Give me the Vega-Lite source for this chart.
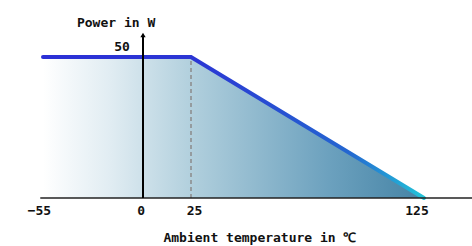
{
  "$schema": "https://vega.github.io/schema/vega-lite/v6.json",
  "width": 472,
  "height": 246,
  "padding": 0,
  "autosize": "none",
  "background": "white",
  "config": {"view": {"stroke": null}},
  "datasets": {
    "curve": [
      {"t": -55, "p": 50},
      {"t": 25, "p": 50},
      {"t": 125, "p": 0}
    ],
    "labels": [
      {"t": -57, "p": -4.6, "label": "−55"},
      {"t": -1, "p": -4.6, "label": "0"},
      {"t": 26.5, "p": -4.6, "label": "25"},
      {"t": 122, "p": -4.6, "label": "125"},
      {"t": -11.5, "p": 53.5, "label": "50"},
      {"t": -14.8, "p": 62, "label": "Power in W"},
      {"t": 54.6, "p": -14.2, "label": "Ambient temperature in ℃"}
    ]
  },
  "encoding": {
    "x": {"field": "t", "type": "quantitative", "axis": null,
      "scale": {"domain": [-55, 0, 25, 125], "range": [43, 143, 191, 424], "nice": false, "zero": false}},
    "y": {"field": "p", "type": "quantitative", "axis": null,
      "scale": {"domain": [0, 50], "range": [198, 57], "nice": false, "zero": false}}
  },
  "layer": [
    {
      "data": {"name": "curve"},
      "mark": {"type": "area", "color": {"gradient": "linear", "x1": 0, "x2": 1, "y1": 0, "y2": 0,
        "stops": [
          {"offset": 0, "color": "#ffffff"},
          {"offset": 0.18, "color": "#e0ecf2"},
          {"offset": 0.4, "color": "#afcedc"},
          {"offset": 0.75, "color": "#6ca1be"},
          {"offset": 1, "color": "#4583a5"}
        ]}}
    },
    {
      "data": {"values": [{"t": 25, "p": 0, "p2": 50}]},
      "mark": {"type": "rule", "color": "#8a8a8a", "strokeWidth": 1.5, "strokeDash": [4, 3]},
      "encoding": {"y2": {"field": "p2"}}
    },
    {
      "data": {"name": "curve"},
      "mark": {"type": "line", "strokeWidth": 4, "strokeCap": "round", "strokeJoin": "miter",
        "color": {"gradient": "linear", "x1": 0, "x2": 1, "y1": 0, "y2": 0,
          "stops": [
            {"offset": 0, "color": "#2b30d6"},
            {"offset": 0.4, "color": "#2b36d4"},
            {"offset": 0.8, "color": "#2466d0"},
            {"offset": 1, "color": "#22c4d8"}
          ]}}
    },
    {
      "data": {"values": [{"t": -56.5, "t2": 146, "p": 0}]},
      "mark": {"type": "rule", "color": "#222222", "strokeWidth": 1.5},
      "encoding": {"x2": {"field": "t2"}}
    },
    {
      "data": {"values": [{"t": 0, "p": 0, "p2": 57.5}]},
      "mark": {"type": "rule", "color": "#000000", "strokeWidth": 2},
      "encoding": {"y2": {"field": "p2"}}
    },
    {
      "data": {"values": [{"t": 0, "p": 57.8}]},
      "mark": {"type": "point", "shape": "triangle-up", "filled": true, "color": "#000000", "opacity": 1, "size": 28}
    },
    {
      "data": {"name": "labels"},
      "mark": {"type": "text", "font": "DejaVu Sans Mono", "fontWeight": "bold", "fontSize": 13, "color": "#111111", "align": "center", "baseline": "middle"},
      "encoding": {"text": {"field": "label"}}
    }
  ]
}
